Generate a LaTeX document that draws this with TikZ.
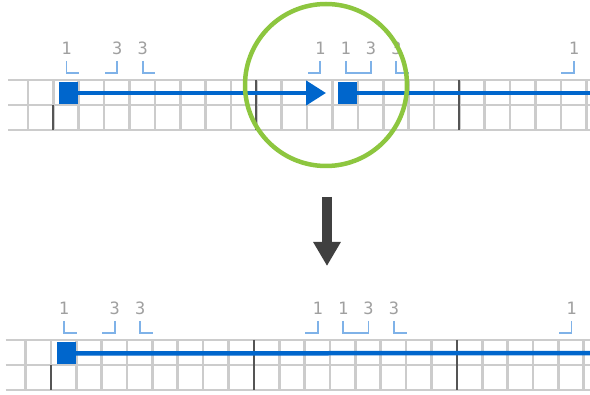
\documentclass[tikz,border=0pt]{standalone}
\usepackage{fontspec}
\setmonofont{DejaVu Sans Mono}
\usetikzlibrary{arrows.meta}

\definecolor{gridgray}{HTML}{CCCCCC}
\definecolor{bargray}{HTML}{555555}
\definecolor{runblue}{HTML}{0066CC}
\definecolor{tickblue}{HTML}{7FB2E8}
\definecolor{digitgray}{HTML}{A0A0A0}
\definecolor{ringgreen}{HTML}{8DC63F}
\definecolor{arrowgray}{HTML}{404040}

\tikzset{
	gridline/.style={gridgray, line width=2.6pt},
	barline/.style={bargray, line width=2.2pt},
	run/.style={runblue, line width=4.5pt},
	stopbox/.style={fill=runblue, draw=none, minimum width=19pt, minimum height=22pt, inner sep=0pt},
	digit/.style={text=digitgray, font=\ttfamily\fontsize{17}{17}\selectfont, inner sep=0pt, anchor=base},
	tick/.style={tickblue, line width=1.8pt},
	ring/.style={ringgreen, line width=4.5pt},
}

\begin{document}
\begin{tikzpicture}[x=1pt, y=-1pt]
	\useasboundingbox (0,0) rectangle (590,395);
	% two copies of the staff: before and after
	\foreach \p/\dx/\dy in {top/0/0, bot/-2.5/260} {
		\begin{scope}[shift={(\dx,\dy)}]
			% cells
			\foreach \k in {0,...,22}
				\draw[gridline] (28+25.375*\k,80) -- (28+25.375*\k,130);
			\foreach \yy in {80,105,130}
				\draw[gridline] (8,\yy) -- (595,\yy);
			% bar lines every 8 columns
			\draw[barline] (53.375,105) -- (53.375,130);
			\draw[barline] (256.375,80) -- (256.375,130);
			\draw[barline] (459.375,80) -- (459.375,130);
			% digits with their brackets
			\foreach \n/\d/\s in {0/1/1, 2/3/-1, 3/3/1, 10/1/-1, 11/1/1, 12/3/-1, 13/3/1, 20/1/-1} {
				\node[digit] (d\p\n) at (66.5+25.375*\n,55) {\d};
				\draw[tick] ([yshift=-6pt]d\p\n.base) -- ++(0,12) -- ++(\s*12.7,0);
			}
		\end{scope}
	}

	% top: run with arrow, then the next run
	\node[stopbox] (s1) at (68.5,93) {};
	\coordinate (tip) at (326,93);
	\draw[run, -{Triangle[length=20pt 0, width=24pt 0]}] (s1) -- (tip);
	\node[stopbox] (s2) at (347,93) {};
	\coordinate (e1) at (595,93);
	\draw[run] (s2) -- (e1);

	% bottom: one merged run
	\node[stopbox] (s3) at (66.5,353.5) {};
	\coordinate (e2) at (595,353);
	\draw[run] (s3) -- (e2);

	\draw[ring] (326,85) circle (81pt);

	% down arrow between the two
	\coordinate (from) at (327,197);
	\coordinate (to) at (327,266);
	\draw[arrowgray, line width=10pt, -{Triangle[length=24pt 0, width=26pt 0]}] (from) -- (to);
\end{tikzpicture}
\end{document}
